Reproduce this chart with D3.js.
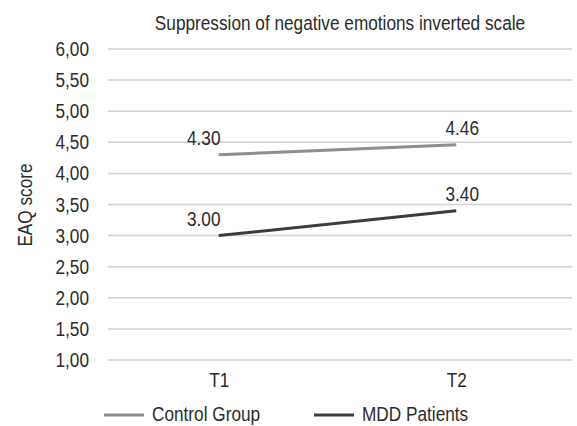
<!DOCTYPE html>
<html>
<head>
<meta charset="utf-8">
<script src="https://cdn.jsdelivr.net/npm/d3@7"></script>
<style>
  body { margin: 0; background: #fff; }
  svg { display: block; font-family: "Liberation Sans", Arial, sans-serif; }
</style>
</head>
<body>
<svg width="577" height="426"></svg>
<script>
'use strict'

const TITLE = 'Suppression of negative emotions inverted scale';
const Y_TITLE = 'EAQ score';
const CATEGORIES = ['T1', 'T2'];
const SERIES_NAMES = ['Control Group', 'MDD Patients'];
const CONTROL = [4.30, 4.46];
const MDD = [3.00, 3.40];
const Y_TICKS = [1, 1.5, 2, 2.5, 3, 3.5, 4, 4.5, 5, 5.5, 6];
const COLORS = ['#8f8f8f', '#3c3c3c'];

const svg = d3.select('svg');
const FONT = 20.5;
// the original uses a narrow face; squeeze Liberation Sans to match
const NARROW = 'scale(0.84,1)';
const TEXT_COLOR = '#2b2b2b';

const x = d3.scalePoint()
  .domain(CATEGORIES)
  .range([100, 575])
  .padding(0.5);

const y = d3.scaleLinear()
  .domain([1, 6])
  .range([360, 49]);

// title
svg.append('text')
  .attr('transform', `translate(340,29.5) ${NARROW}`)
  .attr('text-anchor', 'middle')
  .style('font-size', '20.5px')
  .attr('fill', TEXT_COLOR)
  .text(TITLE);

// gridlines
svg.append('g')
  .selectAll('line')
  .data(Y_TICKS)
  .join('line')
  .attr('x1', 108)
  .attr('x2', 572)
  .attr('y1', d => y(d))
  .attr('y2', d => y(d))
  .attr('stroke', '#d2d2d2')
  .attr('stroke-width', 1.5);

// y axis labels
const yAxis = d3.axisLeft(y)
  .tickValues(Y_TICKS)
  .tickSize(0)
  .tickPadding(0)
  .tickFormat(d => d3.format('.2f')(d).replace('.', ','));

svg.append('g')
  .attr('transform', 'translate(89,0)')
  .call(yAxis)
  .call(g => g.select('.domain').remove())
  .call(g => g.selectAll('text')
    .attr('fill', TEXT_COLOR)
    .attr('transform', NARROW)
    .style('font-size', FONT + 'px')
    .style('font-family', '"Liberation Sans", Arial, sans-serif'));

// x axis labels
const xAxis = d3.axisBottom(x).tickSize(0).tickPadding(0);
svg.append('g')
  .attr('transform', 'translate(0,372)')
  .call(xAxis)
  .call(g => g.select('.domain').remove())
  .call(g => g.selectAll('text')
    .attr('fill', TEXT_COLOR)
    .attr('transform', NARROW)
    .style('font-size', FONT + 'px')
    .style('font-family', '"Liberation Sans", Arial, sans-serif'));

// y axis title
svg.append('text')
  .attr('transform', `translate(32,205) rotate(-90) ${NARROW}`)
  .attr('text-anchor', 'middle')
  .style('font-size', FONT + 'px')
  .attr('fill', TEXT_COLOR)
  .text(Y_TITLE);

const series = [CONTROL, MDD].map((vals, i) => ({
  name: SERIES_NAMES[i],
  color: COLORS[i],
  points: CATEGORIES.map((c, j) => ({ cat: c, value: vals[j] }))
}));

const line = d3.line()
  .x(d => x(d.cat))
  .y(d => y(d.value));

svg.append('g')
  .selectAll('path')
  .data(series)
  .join('path')
  .attr('d', d => line(d.points))
  .attr('fill', 'none')
  .attr('stroke', d => d.color)
  .attr('stroke-width', 3);

// data labels
const labelDx = { T1: -15, T2: 6 };
svg.append('g')
  .selectAll('g')
  .data(series)
  .join('g')
  .selectAll('text')
  .data(d => d.points)
  .join('text')
  .attr('transform', d => `translate(${x(d.cat) + labelDx[d.cat]},${y(d.value) - 10}) ${NARROW}`)
  .attr('text-anchor', 'middle')
  .style('font-size', FONT + 'px')
  .attr('fill', TEXT_COLOR)
  .text(d => d.value.toFixed(2));

// legend
const legend = svg.append('g')
  .selectAll('g')
  .data(series)
  .join('g')
  .attr('transform', (d, i) => `translate(${104 + i * 210},415)`);

legend.append('line')
  .attr('x1', 0)
  .attr('x2', 40)
  .attr('stroke', d => d.color)
  .attr('stroke-width', 3);

legend.append('text')
  .attr('transform', `translate(48,6) ${NARROW}`)
  .style('font-size', FONT + 'px')
  .attr('fill', TEXT_COLOR)
  .text(d => d.name);
</script>
</body>
</html>
